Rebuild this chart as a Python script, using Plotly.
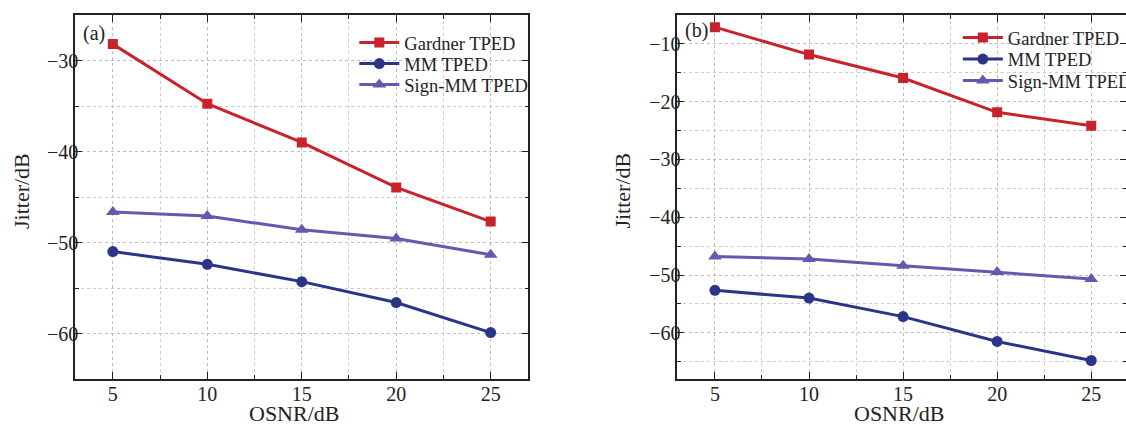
import plotly.graph_objects as go

osnr = [5, 10, 15, 20, 25]

# Panel (a)
a_gardner = [-28.2, -34.75, -39.0, -43.95, -47.7]
a_mm = [-51.0, -52.4, -54.3, -56.6, -59.9]
a_signmm = [-46.65, -47.1, -48.6, -49.55, -51.35]

# Panel (b)
b_gardner = [-7.1, -11.85, -15.9, -21.85, -24.15]
b_mm = [-52.65, -54.0, -57.2, -61.5, -64.8]
b_signmm = [-46.8, -47.25, -48.4, -49.5, -50.7]

names = ["Gardner TPED", "MM TPED", "Sign-MM TPED"]
colors = ["#C8232C", "#2B3587", "#6A56B0"]
symbols = ["square", "circle", "triangle-up"]
sizes = [10, 11, 12]

FONT = "Liberation Serif, Times New Roman, serif"
REF_W = 1126
W, H = 1137, 425
MT = 15
MB = 425 - 379
ML, MR = 0, 0


def fx(p):  # reference pixel x -> paper
    return p / REF_W


def fy(p):  # reference pixel y -> paper
    return (H - MB - p) / (H - MT - MB)


fig = go.Figure()

legend_pos = {
    0: [(357, 43), (357, 64), (357, 85)],
    1: [(960, 38), (960, 59.5), (960, 81)],
}

lg_layout = {}
k = 0
for panel, (series, xa, ya) in enumerate([
    ([a_gardner, a_mm, a_signmm], "x", "y"),
    ([b_gardner, b_mm, b_signmm], "x2", "y2"),
]):
    for i, vals in enumerate(series):
        k += 1
        lname = "legend" if k == 1 else f"legend{k}"
        fig.add_trace(go.Scatter(
            x=osnr, y=vals, name=names[i], mode="lines+markers",
            line=dict(color=colors[i], width=3),
            marker=dict(symbol=symbols[i], size=sizes[i], color=colors[i]),
            xaxis=xa, yaxis=ya, legend=lname,
        ))
        lx, ly = legend_pos[panel][i]
        lg_layout[lname] = dict(
            x=fx(lx - 3), y=fy(ly), xanchor="left", yanchor="middle",
            bgcolor="rgba(0,0,0,0)", borderwidth=0,
            font=dict(family=FONT, size=18.5, color="#222"),
            itemwidth=40, tracegroupgap=0,
        )

common_axis = dict(
    showline=True, linecolor="#222", linewidth=1.5, mirror="allticks",
    ticks="inside", ticklen=7, tickwidth=1.3, tickcolor="#222",
    showgrid=True, gridcolor="#BDBDBD", griddash="dot", gridwidth=1,
    zeroline=False, automargin=False,
    tickfont=dict(family=FONT, size=20, color="#222"),
)

minor_common = dict(ticks="inside", ticklen=4, tickwidth=1.2, tickcolor="#222",
                    showgrid=True, gridcolor="#CCCCCC", griddash="dot", gridwidth=1)

xaxis_common = dict(common_axis, tick0=5, dtick=5,
                    minor=dict(minor_common, dtick=2.5, tick0=5),
                    ticklabelstandoff=-4)
yaxis_common = dict(common_axis, tick0=0, dtick=10,
                    minor=dict(minor_common, dtick=5, tick0=0),
                    ticklabelstandoff=-9)

title_font = dict(family=FONT, size=22, color="#222")

fig.update_layout(
    width=W, height=H,
    margin=dict(l=ML, r=MR, t=MT, b=MB, pad=0),
    paper_bgcolor="white", plot_bgcolor="white",
    font=dict(family=FONT, size=18, color="#222"),
    xaxis=dict(xaxis_common, domain=[fx(75), fx(528)], range=[3, 27], anchor="y"),
    yaxis=dict(yaxis_common, domain=[0, 1], range=[-65, -25], anchor="x"),
    xaxis2=dict(xaxis_common, domain=[fx(676.7), 1.0], range=[3, 26.9], anchor="y2"),
    yaxis2=dict(yaxis_common, domain=[0, 1], range=[-68, -5], anchor="x2"),
    showlegend=True,
    annotations=[
        dict(text="(a)", x=fx(81), y=fy(33), xref="paper", yref="paper",
             xanchor="left", yanchor="middle", showarrow=False,
             font=dict(family=FONT, size=20, color="#222")),
        dict(text="(b)", x=fx(682), y=fy(31), xref="paper", yref="paper",
             xanchor="left", yanchor="middle", showarrow=False,
             font=dict(family=FONT, size=20, color="#222")),
        dict(text="OSNR/dB", x=fx(294), y=fy(413), xref="paper", yref="paper",
             xanchor="center", yanchor="middle", showarrow=False, font=title_font),
        dict(text="OSNR/dB", x=fx(898), y=fy(413), xref="paper", yref="paper",
             xanchor="center", yanchor="middle", showarrow=False, font=title_font),
        dict(text="Jitter/dB", x=fx(22), y=fy(191), xref="paper", yref="paper",
             xanchor="center", yanchor="middle", textangle=-90, showarrow=False,
             font=title_font),
        dict(text="Jitter/dB", x=fx(622), y=fy(191), xref="paper", yref="paper",
             xanchor="center", yanchor="middle", textangle=-90, showarrow=False,
             font=title_font),
    ],
    **lg_layout,
)

fig.write_html(
    "out.html",
    config={"displayModeBar": False},
    post_script=(
        "document.documentElement.style.overflow='hidden';"
        "document.body.style.margin='0';document.body.style.overflow='hidden';"
    ),
)
